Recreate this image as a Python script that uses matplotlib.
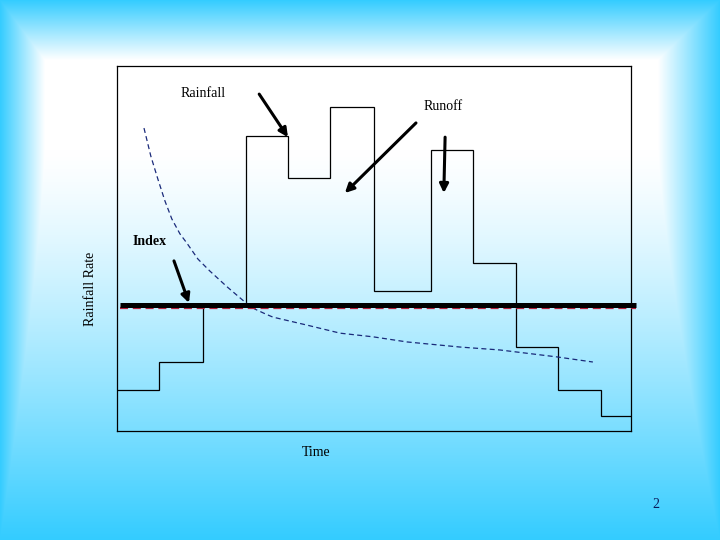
import numpy as np
import matplotlib.pyplot as plt

plt.rcParams['font.family'] = ['Liberation Serif', 'DejaVu Serif']
plt.rcParams['lines.scale_dashes'] = False

# rainfall hyetograph (time edges, rate per interval)
edges = [0, 0.98, 2.0, 3.01, 4.0, 4.97, 6.0, 7.33, 8.31, 9.32, 10.3, 11.3, 12.0]
rain = [1.12, 1.89, 3.45, 8.08, 6.93, 8.88, 3.84, 7.70, 4.60, 2.30, 1.12, 0.41]

# infiltration-type decay curve
curve_t = [0.63, 0.79, 0.96, 1.12, 1.28, 1.47, 1.63, 1.89, 2.17, 2.57, 2.99, 3.22,
           3.46, 3.64, 4.04, 4.44, 5.21, 5.98, 6.77, 8.01, 8.94, 10.27, 11.11]
curve_r = [8.30, 7.53, 6.88, 6.30, 5.81, 5.40, 5.15, 4.71, 4.38, 3.95, 3.53, 3.34,
           3.21, 3.12, 3.01, 2.90, 2.68, 2.58, 2.44, 2.30, 2.22, 2.03, 1.89]

index_rate = 3.44
red_rate = 3.36

fig = plt.figure(figsize=(7.2, 5.4), dpi=100)

# slide background: cyan edges fading to white
W, H = 720, 540
xx, yy = np.meshgrid(np.arange(W) + 0.5, np.arange(H) + 0.5)
a_top = np.clip(1 - yy / 60, 0, 1)
a_left = np.clip(1 - xx / 45, 0, 1)
a_right = np.clip(1 - (W - xx) / 62, 0, 1)
a_bot = np.clip((yy - 150) / 390, 0, 1) ** 1.3
a = np.maximum.reduce([a_top, a_left, a_right, a_bot])
cyan = np.array([51, 204, 255]) / 255
img = (1 - a)[..., None] * np.ones(3) + a[..., None] * cyan
bg = fig.add_axes([0, 0, 1, 1])
bg.imshow(img, aspect='auto', extent=(0, 1, 0, 1))
bg.axis('off')

ax = fig.add_axes([117 / 720, 1 - 431 / 540, 514 / 720, 365 / 540])
ax.set_facecolor('none')
ax.set_xlim(0, 12)
ax.set_ylim(0, 10)
ax.set_xticks([])
ax.set_yticks([])
for s in ax.spines.values():
    s.set_linewidth(0.9)
    s.set_color('black')

ax.stairs(rain, edges, color='black', lw=0.9, baseline=None)
ax.plot(curve_t, curve_r, color='#1a2a7a', lw=0.9, dashes=(3.6, 2.4))
ax.plot([0.07, 12.12], [red_rate, red_rate], color='#b4203c', lw=1.6,
        dashes=(5.8, 3.4), clip_on=False, zorder=3)
ax.plot([0.07, 12.12], [index_rate, index_rate], color='black', lw=3.6,
        clip_on=False, zorder=4, solid_capstyle='butt')

arrow = dict(arrowstyle='-|>', color='black', lw=2.2, mutation_scale=13,
             shrinkA=0, shrinkB=0)
ax.annotate('', xy=(3.99, 8.05), xytext=(3.32, 9.23), arrowprops=arrow)
ax.annotate('', xy=(5.32, 6.52), xytext=(6.98, 8.44), arrowprops=arrow)
ax.annotate('', xy=(7.63, 6.52), xytext=(7.66, 8.05), arrowprops=arrow)
ax.annotate('', xy=(1.68, 3.51), xytext=(1.33, 4.66), arrowprops=arrow)

ax.text(2.01, 9.26, 'Rainfall', fontsize=10, ha='center', va='center')
ax.text(7.61, 8.88, 'Runoff', fontsize=10, ha='center', va='center')
ax.text(0.77, 5.18, 'Index', fontsize=10, fontweight='bold', ha='center', va='center')

fig.text(91 / 720, 1 - 289 / 540, 'Rainfall Rate', fontsize=10, rotation=90,
         ha='center', va='center')
fig.text(316 / 720, 1 - 452 / 540, 'Time', fontsize=10, ha='center', va='center')
fig.text(656 / 720, 1 - 504 / 540, '2', fontsize=10, color='#0a1a5a',
         ha='center', va='center')

fig.savefig('out.png', dpi=100)
